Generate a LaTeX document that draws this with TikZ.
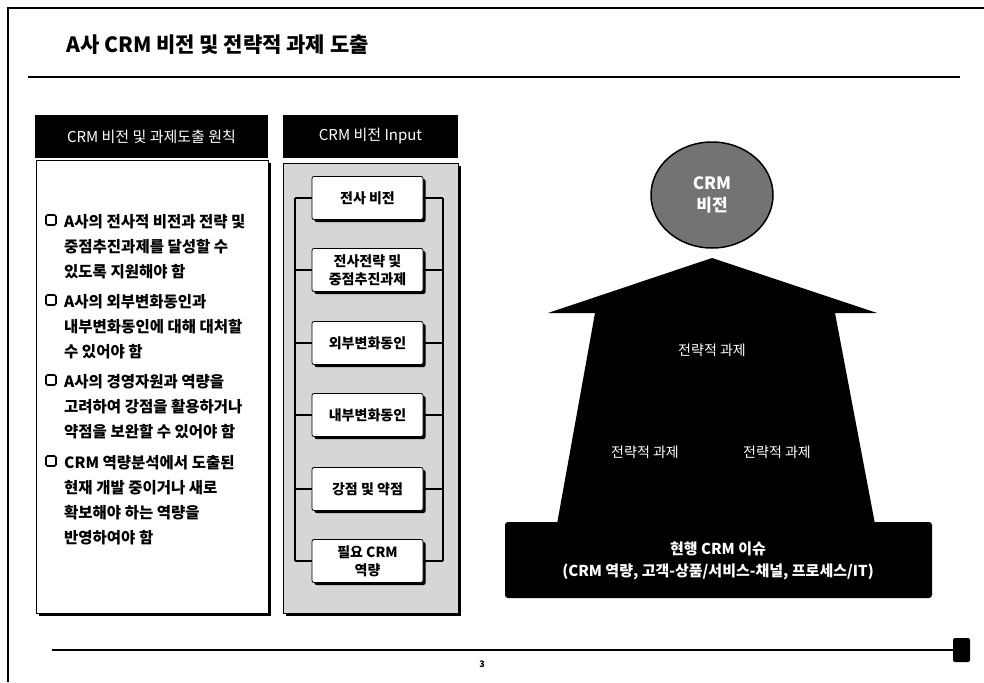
\documentclass[tikz,border=0pt]{standalone}
\usepackage{fontspec}
\setmainfont{Noto Sans CJK KR}
\usetikzlibrary{shapes.geometric,shadows}
\definecolor{panelgray}{gray}{0.84}
\definecolor{circgray}{gray}{0.45}
\tikzset{
  hdr/.style={fill=black,text=white,minimum height=43pt,inner sep=0pt,font=\fontsize{15}{17}\selectfont},
  shadowbox/.style={draw=black,line width=0.8pt,drop shadow={shadow xshift=2.5pt,shadow yshift=-2.5pt,fill=black,opacity=1}},
  inbox/.style={shadowbox,fill=white,rounded corners=2pt,minimum width=111pt,minimum height=43pt,inner sep=0pt,align=center,font=\bfseries\fontsize{14}{18}\selectfont},
  bul/.style={anchor=north west,inner sep=0pt,align=left,font=\bfseries\fontsize{15.5}{24.8}\selectfont},
  sq/.style={draw=black,line width=1.6pt,rounded corners=1.5pt,minimum size=10pt,inner sep=0pt},
  tie/.style={line width=2pt},
  wtxt/.style={text=white,font=\fontsize{14}{16}\selectfont,inner sep=0pt}
}
\begin{document}
\begin{tikzpicture}[x=1pt,y=-1pt]
\useasboundingbox (0,0) rectangle (984,682);
% frame
\draw[line width=1.5pt] (8,682) -- (8,8) -- (984,8);
\node[anchor=west,inner sep=0pt,font=\bfseries\fontsize{21}{23}\selectfont] (title) at (66,45) {A사 CRM 비전 및 전략적 과제 도출};
\draw[line width=2.5pt] (28,77) -- (960,77);
% left column
\node[hdr,minimum width=233pt] (hl) at (151.5,136.5) {CRM 비전 및 과제도출 원칙};
\node[shadowbox,fill=white,minimum width=232pt,minimum height=453pt,inner sep=0pt] (lb) at (152,386.5) {};
\node[sq] (s1) at (51,220) {};
\node[bul] (b1) at (64,214.5) {A사의 전사적 비전과 전략 및\\중점추진과제를 달성할 수\\있도록 지원해야 함};
\node[sq] (s2) at (51,300) {};
\node[bul] (b2) at (64,294.5) {A사의 외부변화동인과\\내부변화동인에 대해 대처할\\수 있어야 함};
\node[sq] (s3) at (51,380) {};
\node[bul] (b3) at (64,374.5) {A사의 경영자원과 역량을\\고려하여 강점을 활용하거나\\약점을 보완할 수 있어야 함};
\node[sq] (s4) at (51,461) {};
\node[bul] (b4) at (64,455.5) {CRM 역량분석에서 도출된\\현재 개발 중이거나 새로\\확보해야 하는 역량을\\반영하여야 함};
% middle column
\node[hdr,minimum width=175pt] (hm) at (370.5,136.5) {CRM 비전 Input};
\node[shadowbox,fill=panelgray,minimum width=175pt,minimum height=450pt,inner sep=0pt] (mp) at (370.5,388) {};
\coordinate (l1) at (295,198);
\coordinate (l2) at (295,561);
\coordinate (r1) at (443,198);
\coordinate (r2) at (443,561);
\draw[tie] (l1) -- (l2);
\draw[tie] (r1) -- (r2);
\node[inbox] (m1) at (367.5,198) {전사 비전};
\node[inbox] (m2) at (367.5,270) {전사전략 및\\중점추진과제};
\node[inbox] (m3) at (367.5,343) {외부변화동인};
\node[inbox] (m4) at (367.5,415) {내부변화동인};
\node[inbox] (m5) at (367.5,489) {강점 및 약점};
\node[inbox] (m6) at (367.5,561) {필요 CRM\\역량};
\foreach \m in {m1,m2,m3,m4,m5,m6}{
  \draw[tie] (\m.west) -- (\m.west -| l1);
  \draw[tie] (\m.east) -- (\m.east -| r1);
}
% right: arrow
\fill[black] (712,258) -- (877,313) -- (835,313) -- (875,524) -- (557,524) -- (595,313) -- (548,313) -- cycle;
\node[fill=black,rounded corners=3pt,minimum width=427pt,minimum height=76pt,inner sep=0pt] (base) at (718.5,560) {};
\node[text=white,align=center,inner sep=0pt,font=\bfseries\fontsize{15}{22}\selectfont] (bt) at (718,561) {현행 CRM 이슈\\(CRM 역량, 고객-상품/서비스-채널, 프로세스/IT)};
\node[wtxt] (t1) at (712,350) {전략적 과제};
\node[wtxt] (t2) at (645,452) {전략적 과제};
\node[wtxt] (t3) at (777,452) {전략적 과제};
\node[ellipse,draw=black,line width=1.5pt,fill=circgray,minimum width=122pt,minimum height=106pt,inner sep=0pt,align=center,text=white,font=\bfseries\fontsize{17}{22}\selectfont] (vis) at (712,195) {CRM\\비전};
% footer
\node[fill=black,rounded corners=2pt,minimum width=17pt,minimum height=24pt,inner sep=0pt] (pg) at (961.5,650) {};
\draw[line width=1.6pt] (52,650) -- (pg.west);
\node[font=\bfseries\fontsize{9}{10}\selectfont,inner sep=0pt] (num) at (482,664) {3};
\end{tikzpicture}
\end{document}
